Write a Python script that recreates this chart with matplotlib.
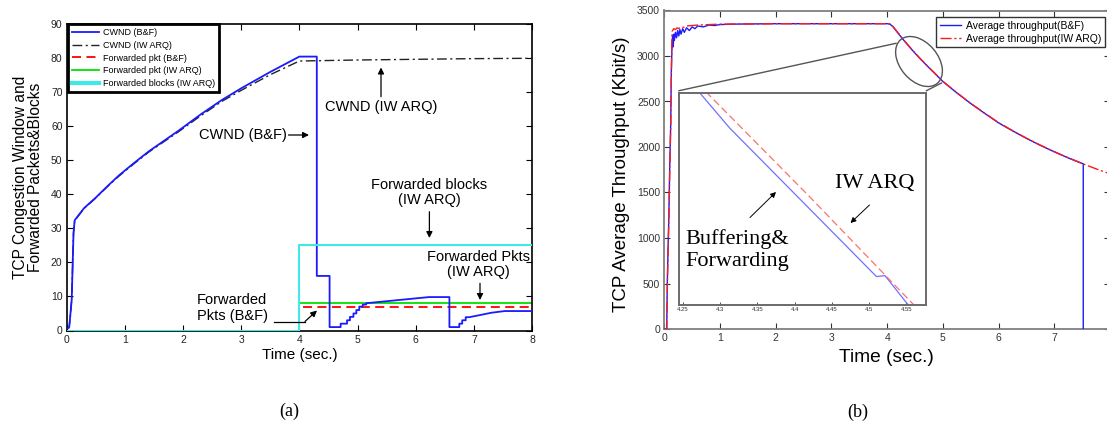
import matplotlib
matplotlib.use('Agg')
import matplotlib.pyplot as plt
from matplotlib.patches import Ellipse
from matplotlib.lines import Line2D

plt.rcParams['font.family'] = ['Liberation Sans', 'DejaVu Sans']

# ---------------- data: panel (a) ----------------
cwnd_bf_t = [0, 0.03, 0.043, 0.055, 0.086, 0.117, 0.137, 0.15, 0.3, 0.49, 0.7, 0.894, 1.15, 1.41, 1.925,
             2.3, 2.67, 3.0, 3.5, 4.0,
             4.3, 4.3, 4.52, 4.52, 4.71, 4.71, 4.82, 4.82, 4.87, 4.87, 4.93, 4.93, 4.98, 4.98, 5.03, 5.03,
             5.09, 5.09, 5.15, 5.15, 6.23, 6.58, 6.58, 6.75, 6.75, 6.80, 6.80, 6.86, 6.86, 6.92, 7.07,
             7.3, 7.53, 8.0]
cwnd_bf = [0.7, 0.7, 1.0, 3.1, 9.0, 28.5, 32.3, 32.6, 35.9, 38.8, 42.3, 45.4, 49.0, 52.5, 58.6,
           63.3, 67.6, 71.0, 75.8, 80.3,
           80.3, 16.0, 16.0, 1.0, 1.0, 2.0, 2.0, 3.0, 3.0, 4.0, 4.0, 5.0, 5.0, 6.0, 6.0, 7.0,
           7.0, 7.6, 7.6, 8.0, 9.8, 9.8, 1.0, 1.0, 2.0, 2.0, 3.0, 3.0, 3.9, 3.9, 4.4,
           5.2, 5.7, 5.7]
cwnd_iw_t = [0, 0.03, 0.043, 0.055, 0.086, 0.117, 0.137, 0.15, 0.3, 0.49, 0.7, 0.894, 1.15, 1.41, 1.925,
             2.3, 2.67, 3.0, 3.5, 4.0, 5.0, 6.0, 7.0, 8.0]
cwnd_iw = [0.7, 0.7, 1.0, 3.1, 9.0, 28.5, 32.2, 32.5, 35.8, 38.7, 42.2, 45.2, 48.8, 52.3, 58.3,
           62.9, 67.2, 70.4, 75.0, 79.0, 79.3, 79.5, 79.7, 79.8]
fwd_t = [0, 4.0, 4.0, 8.0]
fwd_pkt_bf = [0, 0, 7, 7]
fwd_pkt_iw = [0, 0, 8, 8]
fwd_blk_iw = [0, 0, 25, 25]

# ---------------- data: panel (b) ----------------
thr_bf_t = [0, 0.043, 0.054, 0.072, 0.08, 0.097, 0.115, 0.125, 0.14, 0.15, 0.16, 0.17, 0.18, 0.2, 0.22,
            0.24, 0.26, 0.28, 0.3, 0.33, 0.36, 0.4, 0.45, 0.5, 0.55, 0.6, 0.7, 0.8, 0.9, 1.0, 1.2, 1.5,
            2.0, 2.5, 3.0, 3.5, 4.0, 4.05, 4.1, 4.2, 4.3, 4.4, 4.5, 4.6, 4.75, 5.0, 5.25, 5.5, 5.75,
            6.0, 6.25, 6.5, 6.75, 7.0, 7.25, 7.52, 7.52]
thr_bf = [0, 0, 515, 1010, 1180, 1780, 2250, 2800, 3150, 3230, 3100, 3240, 3170, 3260, 3200, 3280, 3220,
          3290, 3240, 3300, 3260, 3310, 3280, 3320, 3300, 3330, 3320, 3340, 3335, 3345, 3350, 3352,
          3355, 3355, 3355, 3355, 3355, 3350, 3325, 3248, 3172, 3100, 3031, 2965, 2872, 2720, 2595,
          2478, 2370, 2265, 2178, 2095, 2018, 1947, 1880, 1815, 0]
thr_iw_t = [0, 0.045, 0.056, 0.074, 0.082, 0.1, 0.117, 0.127, 0.14, 0.15, 0.17, 0.2, 0.23, 0.26, 0.3,
            0.35, 0.4, 0.5, 0.6, 0.8, 1.0, 1.5, 2.0, 2.5, 3.0, 3.5, 4.0, 4.05, 4.1, 4.2, 4.3, 4.4, 4.5,
            4.6, 4.75, 5.0, 5.25, 5.5, 5.75, 6.0, 6.25, 6.5, 6.75, 7.0, 7.25, 7.5, 7.75, 8.0]
thr_iw = [0, 0, 520, 1000, 1200, 1800, 2260, 2820, 3270, 3280, 3300, 3290, 3310, 3300, 3320, 3315, 3330,
          3335, 3340, 3345, 3350, 3352, 3355, 3355, 3355, 3355, 3355, 3352, 3328, 3250, 3175, 3103, 3034,
          2968, 2875, 2722, 2597, 2480, 2372, 2268, 2180, 2097, 2020, 1949, 1882, 1818, 1760, 1705]
# zoomed inset (4.25 - 4.57 s)
zoom_bf_t = [4.262, 4.3126, 4.510, 4.5215, 4.560]
zoom_bf = [3170, 3072, 2743, 2745, 2665]
zoom_iw_t = [4.27, 4.42, 4.575]
zoom_iw = [3170, 2920, 2655]
zoom_ticks = [4.25, 4.3, 4.35, 4.4, 4.45, 4.5, 4.55]
zoom_tick_labels = ['4.25', '4.3', '4.35', '4.4', '4.45', '4.5', '4.55']
right_xtick_labels = ['0', '1', '2', '3', '4', '5', '6', '7', '']

W, H = 1107, 425
fig = plt.figure(figsize=(W / 100, H / 100), dpi=100)


def fx(px):
    return px / W


def fy(py):
    return 1 - py / H


def rect(x0, y0, x1, y1):
    return [fx(x0), fy(y1), fx(x1) - fx(x0), fy(y0) - fy(y1)]


# ================= panel (a) =================
axL = fig.add_axes(rect(66.7, 23.5, 532, 330.5))
axL.plot(cwnd_bf_t, cwnd_bf, color='#1a1aff', lw=1.3, label='CWND (B&F)', zorder=4)
axL.plot(cwnd_iw_t, cwnd_iw, color='#222222', lw=1.0, dashes=(7, 2.5, 1.5, 2.5),
         label='CWND (IW ARQ)', zorder=3)
axL.plot(fwd_t, fwd_pkt_bf, color='red', lw=1.3, dashes=(5, 3), label='Forwarded pkt (B&F)', zorder=3)
axL.plot(fwd_t, fwd_pkt_iw, color='#00e000', lw=1.3, label='Forwarded pkt (IW ARQ)', zorder=2)
axL.plot(fwd_t, fwd_blk_iw, color='#40e8e8', lw=1.5, label='Forwarded blocks (IW ARQ)', zorder=5)
axL.set_xlim(0, 8)
axL.set_ylim(0, 90)
axL.set_xticks(range(0, 9))
axL.set_yticks(range(0, 91, 10))
axL.tick_params(direction='in', top=True, right=True, length=4, width=0.8,
                labelsize=7.5, labelcolor='#222222', pad=3)
for s in axL.spines.values():
    s.set_linewidth(1.2)

legL = axL.legend(loc='upper left', bbox_to_anchor=(fx(68), fy(24)), bbox_transform=fig.transFigure,
                  fontsize=6.5, handlelength=3.0, handletextpad=0.4, labelspacing=0.42,
                  borderpad=0.45, borderaxespad=0, fancybox=False, framealpha=1, edgecolor='black')
legL.get_frame().set_linewidth(2)
legL.get_lines()[4].set_linewidth(3)

fig.text(fx(28), fy(177.5), 'TCP Congestion Window and\nForwarded Packets&Blocks', rotation=90,
         ha='center', va='center', fontsize=11.2, linespacing=1.05)
fig.text(fx(300), fy(355), 'Time (sec.)', ha='center', va='center', fontsize=11)

tk = dict(fontsize=10.5, ha='center', va='center')
fig.text(fx(381), fy(107), 'CWND (IW ARQ)', **tk)
fig.text(fx(243), fy(135), 'CWND (B&F)', **tk)
fig.text(fx(429.4), fy(192.5), 'Forwarded blocks\n(IW ARQ)', linespacing=1.1, **tk)
fig.text(fx(478.5), fy(264.5), 'Forwarded Pkts\n(IW ARQ)', linespacing=1.1, **tk)
fig.text(fx(197), fy(308), 'Forwarded\nPkts (B&F)', fontsize=10.5, ha='left', va='center', linespacing=1.1)

arw = dict(arrowstyle='-|>', color='black', lw=0.9, mutation_scale=9, shrinkA=0, shrinkB=0)
for (x0, y0, x1, y1) in [(381, 96.7, 381, 67.5), (288.5, 135, 309, 135), (429.4, 211.7, 429.4, 238),
                         (480, 283.3, 480, 300), (305, 321.5, 317, 310.5)]:
    fig.add_artist(matplotlib.patches.FancyArrowPatch((fx(x0), fy(y0)), (fx(x1), fy(y1)),
                                                      transform=fig.transFigure, **arw))
fig.add_artist(Line2D([fx(274), fx(305)], [fy(321.5), fy(321.5)], color='black', lw=0.9,
                      transform=fig.transFigure))

# ================= panel (b) =================
gray = '#808080'
axR = fig.add_axes(rect(664.3, 10.5, 1110, 329))
axR.plot(thr_bf_t, thr_bf, color='#1a1aff', lw=1.0, label='Average throughput(B&F)', zorder=3)
axR.plot(thr_iw_t, thr_iw, color='#ff1a1a', lw=1.0, dashes=(8, 2, 1.5, 2),
         label='Average throughput(IW ARQ)', zorder=4)
axR.set_xlim(0, 8)
axR.set_ylim(0, 3500)
axR.set_xticks(range(0, 9))
axR.set_xticklabels(right_xtick_labels)
axR.set_yticks(range(0, 3501, 500))
axR.tick_params(direction='in', top=True, right=True, length=4, width=0.8, color='#333333',
                labelsize=7.5, labelcolor='#333333', pad=3)
for s in axR.spines.values():
    s.set_linewidth(1.3)
    s.set_color(gray)

legR = axR.legend(loc='upper right', bbox_to_anchor=(fx(1105), fy(17.3)), bbox_transform=fig.transFigure,
                  fontsize=7.5, handlelength=2.0, handletextpad=0.5, labelspacing=0.25,
                  borderpad=0.35, borderaxespad=0, fancybox=False, framealpha=1, edgecolor='#333333')
legR.get_frame().set_linewidth(1.0)

fig.text(fx(622), fy(174), 'TCP Average Throughput (Kbit/s)', rotation=90, ha='center', va='center',
         fontsize=13.5)
fig.text(fx(886), fy(358), 'Time (sec.)', ha='center', va='center', fontsize=13.8)

# zoom ellipse and connectors
fig.add_artist(Ellipse((9.19, (H - 61.5) / 100), width=0.57, height=0.38, angle=-50, fill=False,
                       edgecolor='#555555', lw=1.0, transform=fig.dpi_scale_trans))
fig.add_artist(Line2D([fx(679), fx(896)], [fy(90.7), fy(43.3)], color='#555555', lw=1.0,
                      transform=fig.transFigure))
fig.add_artist(Line2D([fx(926.4), fx(941.5)], [fy(90.7), fy(83.0)], color='#555555', lw=1.0,
                      transform=fig.transFigure))

# inset
axI = fig.add_axes(rect(679, 92.7, 926, 305))
axI.plot(zoom_bf_t, zoom_bf, color='#7070ff', lw=0.9)
axI.plot(zoom_iw_t, zoom_iw, color='#ff7070', lw=0.9, dashes=(6, 3))
axI.set_xlim(4.2446, 4.5766)
axI.set_ylim(2680, 3150)
axI.set_xticks(zoom_ticks)
axI.set_xticklabels(zoom_tick_labels)
axI.set_yticks([])
axI.tick_params(axis='x', direction='in', length=2.5, width=0.6, labelsize=4.3, pad=1.5,
                labelcolor='#333333', color='#333333')
for s in axI.spines.values():
    s.set_linewidth(1.4)
    s.set_color('#6a6a6a')

serif = ['Liberation Serif', 'DejaVu Serif']
fig.text(fx(875), fy(183), 'IW ARQ', family=serif, fontsize=16, ha='center', va='center')
fig.text(fx(685), fy(250), 'Buffering&\nForwarding', family=serif, fontsize=16, ha='left', va='center',
         linespacing=1.15)
arw2 = dict(arrowstyle='-|>', color='black', lw=0.7, mutation_scale=8, shrinkA=0, shrinkB=0)
for (x0, y0, x1, y1) in [(750, 217.5, 776, 192), (869.5, 205, 850.5, 223)]:
    fig.add_artist(matplotlib.patches.FancyArrowPatch((fx(x0), fy(y0)), (fx(x1), fy(y1)),
                                                      transform=fig.transFigure, **arw2))

# captions
fig.text(fx(289), fy(411), '(a)', family=serif, fontsize=13, ha='center', va='center')
fig.text(fx(858), fy(412), '(b)', family=serif, fontsize=13, ha='center', va='center')

fig.savefig('out.png', dpi=100)
